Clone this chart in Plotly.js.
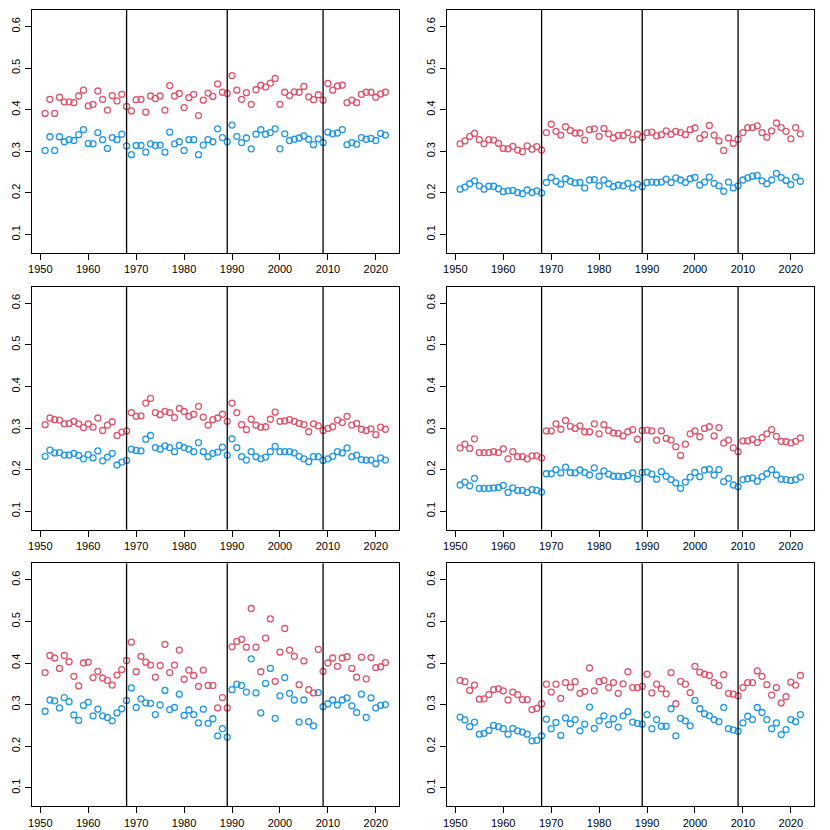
<!DOCTYPE html>
<html>
<head>
<meta charset="utf-8">
<script src="https://cdn.plot.ly/plotly-3.0.1.min.js"></script>
<style>html,body{margin:0;padding:0;background:#fff;}#chart{width:830px;height:830px;}</style>
</head>
<body>
<div id="chart"></div>
<script>
const years = [1951,1952,1953,1954,1955,1956,1957,1958,1959,1960,1961,1962,1963,1964,1965,1966,1967,1968,1969,1970,1971,1972,1973,1974,1975,1976,1977,1978,1979,1980,1981,1982,1983,1984,1985,1986,1987,1988,1989,1990,1991,1992,1993,1994,1995,1996,1997,1998,1999,2000,2001,2002,2003,2004,2005,2006,2007,2008,2009,2010,2011,2012,2013,2014,2015,2016,2017,2018,2019,2020,2021,2022];
const breakYears = [1968, 1989, 2009];
const xTicks = [1950,1960,1970,1980,1990,2000,2010,2020];
const yTicks = [0.1,0.2,0.3,0.4,0.5,0.6];

const p1Red = [0.391,0.425,0.391,0.430,0.419,0.419,0.417,0.433,0.447,0.409,0.413,0.445,0.425,0.399,0.434,0.421,0.437,0.408,0.397,0.424,0.425,0.394,0.433,0.427,0.433,0.399,0.458,0.433,0.439,0.405,0.429,0.437,0.386,0.423,0.440,0.432,0.462,0.442,0.439,0.482,0.447,0.425,0.441,0.413,0.448,0.459,0.455,0.464,0.475,0.413,0.442,0.434,0.443,0.442,0.456,0.431,0.424,0.436,0.423,0.463,0.447,0.457,0.459,0.417,0.423,0.417,0.437,0.442,0.442,0.430,0.438,0.442];
const p1Blue = [0.302,0.335,0.302,0.335,0.323,0.328,0.326,0.340,0.352,0.319,0.318,0.345,0.328,0.307,0.333,0.328,0.341,0.313,0.292,0.314,0.314,0.298,0.318,0.314,0.315,0.298,0.346,0.318,0.323,0.302,0.328,0.328,0.292,0.315,0.328,0.323,0.354,0.333,0.323,0.363,0.336,0.321,0.332,0.306,0.341,0.352,0.341,0.345,0.354,0.306,0.342,0.326,0.329,0.332,0.337,0.329,0.316,0.330,0.321,0.346,0.342,0.344,0.352,0.316,0.321,0.317,0.333,0.329,0.331,0.326,0.343,0.339];

const p2Red = [0.318,0.325,0.336,0.343,0.328,0.318,0.328,0.327,0.319,0.307,0.306,0.312,0.303,0.299,0.313,0.305,0.311,0.303,0.345,0.365,0.348,0.339,0.359,0.350,0.344,0.344,0.327,0.352,0.354,0.336,0.355,0.342,0.332,0.338,0.338,0.345,0.328,0.341,0.334,0.345,0.346,0.337,0.340,0.349,0.341,0.348,0.345,0.340,0.352,0.356,0.331,0.340,0.362,0.339,0.325,0.302,0.332,0.319,0.329,0.345,0.357,0.357,0.361,0.345,0.334,0.349,0.368,0.357,0.348,0.330,0.357,0.342];
const p2Blue = [0.209,0.214,0.222,0.229,0.217,0.209,0.216,0.216,0.210,0.203,0.205,0.206,0.201,0.198,0.207,0.201,0.205,0.200,0.225,0.237,0.228,0.221,0.234,0.228,0.224,0.225,0.212,0.231,0.232,0.217,0.231,0.222,0.215,0.219,0.217,0.223,0.212,0.221,0.215,0.225,0.226,0.225,0.226,0.233,0.225,0.236,0.231,0.225,0.234,0.237,0.219,0.226,0.238,0.223,0.217,0.204,0.226,0.212,0.217,0.231,0.236,0.240,0.242,0.229,0.222,0.231,0.247,0.237,0.230,0.220,0.238,0.228];

const p3Red = [0.308,0.324,0.320,0.319,0.310,0.311,0.316,0.310,0.301,0.310,0.302,0.324,0.294,0.307,0.315,0.282,0.290,0.293,0.337,0.328,0.329,0.360,0.371,0.337,0.332,0.340,0.337,0.325,0.347,0.340,0.328,0.333,0.352,0.326,0.307,0.320,0.324,0.333,0.316,0.360,0.337,0.308,0.296,0.321,0.307,0.302,0.303,0.321,0.338,0.316,0.317,0.320,0.316,0.311,0.308,0.291,0.310,0.305,0.294,0.299,0.303,0.319,0.313,0.328,0.307,0.311,0.297,0.294,0.298,0.284,0.302,0.297];
const p3Blue = [0.232,0.247,0.240,0.241,0.235,0.235,0.239,0.234,0.226,0.236,0.228,0.245,0.221,0.230,0.239,0.211,0.218,0.222,0.249,0.246,0.245,0.273,0.282,0.253,0.249,0.257,0.253,0.243,0.258,0.253,0.249,0.243,0.265,0.243,0.231,0.239,0.242,0.254,0.235,0.274,0.253,0.231,0.223,0.243,0.231,0.226,0.230,0.243,0.256,0.243,0.243,0.243,0.240,0.232,0.226,0.219,0.231,0.231,0.222,0.226,0.232,0.243,0.240,0.252,0.231,0.235,0.224,0.223,0.223,0.214,0.228,0.223];

const p4Red = [0.252,0.261,0.251,0.274,0.241,0.241,0.241,0.243,0.241,0.250,0.226,0.243,0.231,0.231,0.226,0.233,0.233,0.228,0.293,0.293,0.310,0.297,0.318,0.304,0.299,0.305,0.291,0.291,0.310,0.286,0.308,0.294,0.288,0.287,0.281,0.291,0.296,0.273,0.294,0.295,0.293,0.271,0.293,0.275,0.271,0.255,0.234,0.261,0.286,0.293,0.279,0.299,0.303,0.281,0.301,0.264,0.271,0.252,0.243,0.269,0.269,0.273,0.265,0.277,0.286,0.296,0.280,0.268,0.267,0.264,0.268,0.276];
const p4Blue = [0.163,0.170,0.161,0.179,0.155,0.155,0.155,0.156,0.157,0.162,0.145,0.156,0.150,0.150,0.145,0.152,0.150,0.146,0.190,0.190,0.200,0.192,0.206,0.193,0.192,0.199,0.193,0.187,0.204,0.184,0.197,0.189,0.184,0.184,0.183,0.186,0.192,0.177,0.193,0.194,0.189,0.177,0.195,0.184,0.176,0.168,0.155,0.170,0.182,0.193,0.183,0.199,0.201,0.187,0.200,0.171,0.179,0.163,0.159,0.176,0.178,0.180,0.172,0.183,0.190,0.200,0.187,0.177,0.176,0.174,0.176,0.182];

const p5Red = [0.377,0.418,0.412,0.387,0.418,0.403,0.368,0.345,0.400,0.402,0.365,0.380,0.364,0.358,0.347,0.371,0.384,0.406,0.450,0.379,0.416,0.402,0.395,0.366,0.394,0.445,0.377,0.395,0.431,0.361,0.383,0.370,0.344,0.383,0.346,0.346,0.292,0.317,0.292,0.439,0.452,0.457,0.438,0.531,0.438,0.379,0.460,0.506,0.356,0.426,0.483,0.431,0.416,0.348,0.405,0.336,0.328,0.433,0.380,0.400,0.412,0.392,0.412,0.415,0.387,0.366,0.414,0.362,0.413,0.389,0.391,0.401];
const p5Blue = [0.284,0.311,0.309,0.292,0.317,0.307,0.275,0.262,0.298,0.306,0.273,0.289,0.273,0.269,0.261,0.280,0.290,0.310,0.340,0.293,0.314,0.304,0.303,0.276,0.299,0.334,0.288,0.293,0.325,0.274,0.287,0.276,0.256,0.289,0.255,0.266,0.225,0.242,0.222,0.336,0.349,0.346,0.330,0.410,0.328,0.280,0.351,0.387,0.267,0.321,0.365,0.327,0.311,0.258,0.311,0.259,0.249,0.329,0.295,0.302,0.311,0.299,0.311,0.316,0.297,0.281,0.325,0.269,0.316,0.292,0.298,0.300];

const p6Red = [0.358,0.355,0.334,0.347,0.313,0.314,0.324,0.336,0.338,0.333,0.311,0.330,0.324,0.312,0.312,0.288,0.291,0.302,0.349,0.330,0.349,0.315,0.353,0.342,0.355,0.327,0.332,0.388,0.333,0.355,0.358,0.341,0.353,0.327,0.350,0.379,0.341,0.341,0.344,0.373,0.328,0.349,0.338,0.326,0.377,0.302,0.356,0.349,0.329,0.392,0.378,0.373,0.370,0.353,0.346,0.372,0.327,0.325,0.321,0.341,0.353,0.353,0.381,0.368,0.348,0.323,0.341,0.304,0.319,0.354,0.347,0.370];
const p6Blue = [0.270,0.263,0.247,0.258,0.229,0.231,0.238,0.250,0.247,0.242,0.229,0.243,0.237,0.234,0.229,0.213,0.214,0.225,0.265,0.242,0.257,0.226,0.268,0.254,0.264,0.237,0.253,0.294,0.243,0.261,0.273,0.252,0.266,0.246,0.273,0.283,0.258,0.255,0.253,0.276,0.242,0.264,0.248,0.248,0.290,0.225,0.267,0.261,0.249,0.310,0.290,0.278,0.273,0.264,0.259,0.293,0.242,0.239,0.236,0.256,0.272,0.264,0.293,0.281,0.264,0.242,0.256,0.228,0.240,0.264,0.259,0.276];

const panels = [
  {red: p1Red, blue: p1Blue},
  {red: p2Red, blue: p2Blue},
  {red: p3Red, blue: p3Blue},
  {red: p4Red, blue: p4Blue},
  {red: p5Red, blue: p5Blue},
  {red: p6Red, blue: p6Blue}
];

const W = 830, H = 830;
const colLeft = [31.5, 446.5];
const boxW = 367.5;
const rowTop = [10, 286.7, 563.3];
const boxH = 243;
const redColor = '#DF536B';
const blueColor = '#2297E6';

const traces = [];
const layout = {
  width: W, height: H,
  margin: {l: 0, r: 0, t: 0, b: 0},
  paper_bgcolor: '#ffffff', plot_bgcolor: '#ffffff',
  showlegend: false,
  font: {family: 'Liberation Sans, Arial, sans-serif', size: 11, color: '#000'},
  shapes: []
};

panels.forEach((p, i) => {
  const r = Math.floor(i / 2), c = i % 2;
  const n = i + 1;
  const xa = n === 1 ? 'x' : 'x' + n;
  const ya = n === 1 ? 'y' : 'y' + n;
  const xkey = n === 1 ? 'xaxis' : 'xaxis' + n;
  const ykey = n === 1 ? 'yaxis' : 'yaxis' + n;
  const x0 = colLeft[c] / W, x1 = (colLeft[c] + boxW) / W;
  const yTop = 1 - rowTop[r] / H, yBot = 1 - (rowTop[r] + boxH) / H;
  const common = {
    showline: true, mirror: true, linecolor: '#000', linewidth: 1,
    showgrid: false, zeroline: false, ticks: 'outside', ticklen: 6, tickwidth: 1,
    tickcolor: '#000', tickfont: {family: 'Liberation Sans, Arial, sans-serif', size: 11, color: '#000'}
  };
  layout[xkey] = Object.assign({}, common, {
    domain: [x0, x1], anchor: ya, range: [1948.16, 2024.84],
    tickmode: 'array', tickvals: xTicks, ticktext: xTicks.map(String)
  });
  layout[ykey] = Object.assign({}, common, {
    domain: [yBot, yTop], anchor: xa, range: [0.0555, 0.6397],
    tickmode: 'array', tickvals: yTicks, ticktext: yTicks.map(v => v.toFixed(1)),
    tickangle: -90
  });
  [[p.red, redColor], [p.blue, blueColor]].forEach(([vals, col]) => {
    traces.push({
      type: 'scatter', mode: 'markers', x: years, y: vals, xaxis: xa, yaxis: ya,
      marker: {symbol: 'circle-open', size: 6, color: col, line: {width: 1.3, color: col}},
      hoverinfo: 'skip'
    });
  });
  breakYears.forEach(by => {
    layout.shapes.push({
      type: 'line', xref: xa, yref: ya + ' domain', x0: by, x1: by, y0: 0, y1: 1,
      line: {color: '#000', width: 1.3}
    });
  });
});

Plotly.newPlot('chart', traces, layout, {staticPlot: true, displayModeBar: false});
</script>
</body>
</html>
